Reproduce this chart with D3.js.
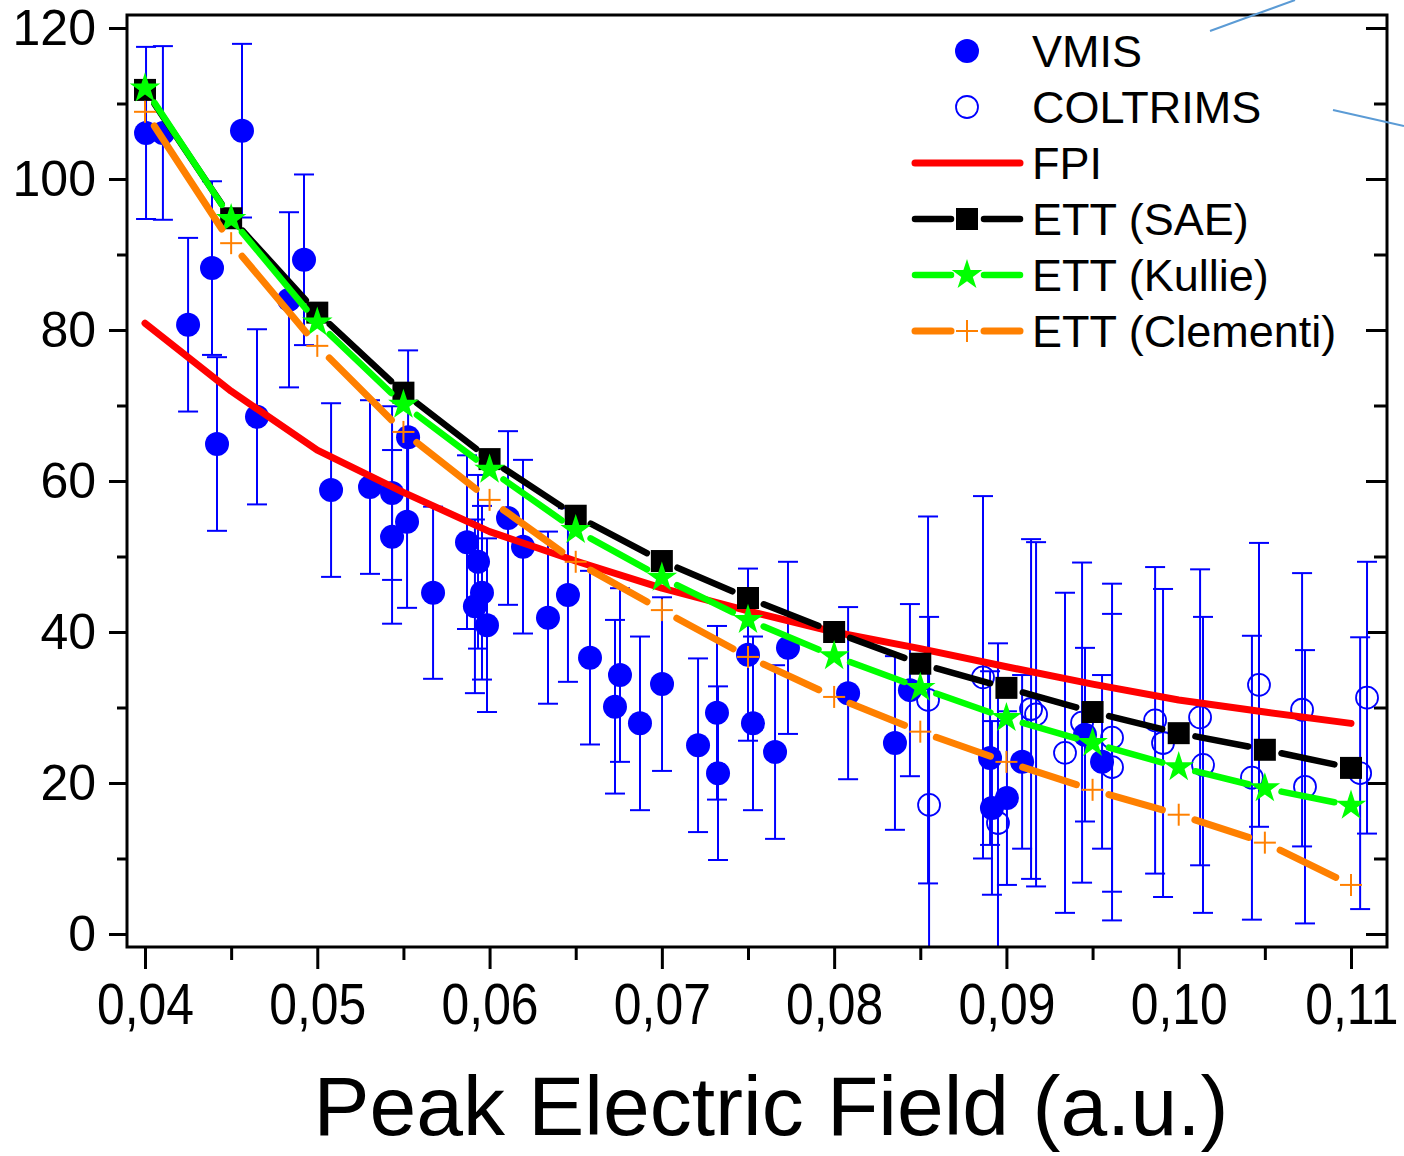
<!DOCTYPE html>
<html>
<head>
<meta charset="utf-8">
<script src="https://cdn.jsdelivr.net/npm/d3@7"></script>
<style>
  html, body { margin: 0; padding: 0; background: #fff; }
  svg { display: block; font-family: "Liberation Sans", Arial, sans-serif; }
</style>
</head>
<body>
<div id="chart"></div>
<script>
// ---- data ----
const xTicks = [0.04, 0.05, 0.06, 0.07, 0.08, 0.09, 0.10, 0.11];
const xTickLabels = ["0,04", "0,05", "0,06", "0,07", "0,08", "0,09", "0,10", "0,11"];
const yTicks = [0, 20, 40, 60, 80, 100, 120];

// VMIS (filled circles)
const vmisX = [0.04006, 0.04104, 0.0425, 0.04389, 0.04418, 0.04563, 0.0465, 0.04836, 0.04923, 0.0508,
  0.05306, 0.05434, 0.05434, 0.05521, 0.05527, 0.05672, 0.05869, 0.05933, 0.05956, 0.05915,
  0.05985, 0.06107, 0.06194, 0.06339, 0.06455, 0.06583, 0.06757, 0.06728, 0.06873, 0.07001,
  0.0721, 0.0732, 0.07326, 0.075, 0.07529, 0.07657, 0.07732, 0.08081, 0.08353, 0.0844,
  0.08905, 0.08916, 0.09003, 0.09091, 0.09456, 0.09555];
const vmisY = [106.1, 106.1, 80.7, 88.2, 64.9, 106.4, 68.5, 84.0, 89.3, 58.8,
  59.2, 58.4, 52.6, 54.6, 65.8, 45.2, 51.9, 49.3, 45.2, 43.4,
  40.9, 55.1, 51.3, 41.9, 44.9, 36.6, 34.3, 30.1, 27.9, 33.1,
  25.0, 29.3, 21.3, 37.0, 27.9, 24.1, 37.9, 31.9, 25.3, 32.3,
  23.3, 16.7, 18.0, 22.8, 26.4, 22.8];
const vmisErr = [11.4, 11.5, 11.5, 11.5, 11.5, 11.5, 11.6, 11.6, 11.3, 11.5,
  11.5, 11.5, 11.5, 11.4, 11.5, 11.4, 11.5, 11.5, 11.5, 11.5,
  11.5, 11.5, 11.5, 11.4, 11.5, 11.5, 11.5, 11.5, 11.5, 11.5,
  11.5, 11.5, 11.5, 11.4, 11.5, 11.5, 11.4, 11.4, 11.5, 11.4,
  11.5, 11.5, 11.5, 11.5, 11.5, 11.5];

// COLTRIMS (open circles)
const coltX = [0.08545, 0.08551, 0.08864, 0.08951, 0.09143, 0.09172, 0.0934, 0.09439, 0.09613, 0.09613,
  0.09863, 0.09909, 0.10124, 0.10141, 0.10425, 0.10466, 0.10716, 0.10733, 0.11053, 0.11093];
const coltY = [31.0, 17.1, 34.0, 14.7, 29.8, 29.1, 24.0, 28.0, 26.0, 22.1,
  28.3, 25.3, 28.7, 22.4, 20.7, 33.0, 29.7, 19.5, 21.3, 31.3];
const coltErr = [24.3, 24.9, 24.0, 23.8, 22.5, 22.8, 21.2, 21.2, 20.4, 20.3,
  20.3, 20.4, 19.6, 19.6, 18.8, 18.8, 18.1, 18.1, 18.0, 18.0];

// theory curves
const modelX = [0.04, 0.045, 0.05, 0.055, 0.06, 0.065, 0.07, 0.075, 0.08, 0.085, 0.09, 0.095, 0.10, 0.105, 0.11];
const fpiY = [80.9, 71.9, 64.1, 58.5, 53.3, 49.4, 45.8, 42.8, 40.0, 37.8, 35.4, 33.1, 31.0, 29.4, 27.9];
const saeY = [111.8, 94.8, 82.3, 71.7, 62.9, 55.4, 49.4, 44.5, 40.0, 35.8, 32.6, 29.4, 26.6, 24.4, 22.0];
const kullieY = [112.0, 94.7, 81.0, 70.1, 61.5, 53.5, 47.2, 41.6, 36.8, 32.6, 28.6, 25.3, 22.1, 19.3, 17.0];
const clementiY = [108.9, 91.5, 77.9, 66.5, 57.5, 49.3, 42.9, 36.7, 31.4, 26.8, 22.8, 19.1, 15.8, 12.1, 6.5];

const legendNames = ["VMIS", "COLTRIMS", "FPI", "ETT (SAE)", "ETT (Kullie)", "ETT (Clementi)"];

// ---- layout ----
const W = 1404, H = 1156;
const frame = { left: 127, right: 1387, top: 15, bottom: 947 };
const BLUE = "#0000ff", RED = "#ff0000", GREEN = "#00ff00", ORANGE = "#ff8000";

const svg = d3.select("#chart").append("svg")
  .attr("width", W).attr("height", H);

const x = d3.scaleLinear().domain([0.04, 0.11]).range([145, 1351]);
const y = d3.scaleLinear().domain([0, 120]).range([934, 28]);

svg.append("defs").append("clipPath").attr("id", "plotClip")
  .append("rect")
  .attr("x", frame.left).attr("y", frame.top)
  .attr("width", frame.right - frame.left).attr("height", frame.bottom - frame.top);

// ---- axes ----
const minorX = d3.range(0.045, 0.111, 0.01);
const minorY = d3.range(10, 120, 20);

// bottom, outward ticks
svg.append("g").attr("transform", `translate(0,${frame.bottom})`)
  .call(d3.axisBottom(x).tickValues(minorX).tickSize(13).tickFormat(""))
  .call(g => g.select(".domain").remove());
const xAxis = svg.append("g").attr("transform", `translate(0,${frame.bottom})`)
  .call(d3.axisBottom(x).tickValues(xTicks).tickSize(22).tickPadding(14)
    .tickFormat((d, i) => xTickLabels[i]));
xAxis.select(".domain").remove();
// labels in the source are slightly condensed
xAxis.selectAll("text")
  .attr("font-size", 58).attr("fill", "#000")
  .attr("font-family", "'Liberation Sans', Arial, sans-serif")
  .attr("transform", "scale(0.86,1)");
// the last label sits against the page edge
xAxis.selectAll(".tick").filter(d => d === 0.11).select("text")
  .attr("text-anchor", "end").attr("x", (1398 - x(0.11)) / 0.86);

// left, outward ticks
svg.append("g").attr("transform", `translate(${frame.left},0)`)
  .call(d3.axisLeft(y).tickValues(minorY).tickSize(10).tickFormat(""))
  .call(g => g.select(".domain").remove());
const yAxis = svg.append("g").attr("transform", `translate(${frame.left},0)`)
  .call(d3.axisLeft(y).tickValues(yTicks).tickSize(18).tickPadding(13).tickFormat(d3.format("d")));
yAxis.select(".domain").remove();
yAxis.selectAll("text")
  .attr("font-size", 50).attr("fill", "#000")
  .attr("font-family", "'Liberation Sans', Arial, sans-serif");

// right, inward ticks
svg.append("g").attr("transform", `translate(${frame.right},0)`)
  .call(d3.axisLeft(y).tickValues(yTicks).tickSize(21).tickFormat(""))
  .call(g => g.select(".domain").remove());
svg.append("g").attr("transform", `translate(${frame.right},0)`)
  .call(d3.axisLeft(y).tickValues(minorY).tickSize(13).tickFormat(""))
  .call(g => g.select(".domain").remove());

svg.selectAll(".tick line").attr("stroke", "#000").attr("stroke-width", 3);

// ---- experimental points ----
const plot = svg.append("g").attr("clip-path", "url(#plotClip)");
const capHalf = 10;

function errorBars(g, xs, ys, es) {
  const idx = d3.range(xs.length);
  const bars = g.append("g").attr("stroke", BLUE).attr("stroke-width", 2);
  bars.selectAll("line.v").data(idx).join("line").attr("class", "v")
    .attr("x1", i => x(xs[i])).attr("x2", i => x(xs[i]))
    .attr("y1", i => y(ys[i] + es[i])).attr("y2", i => y(ys[i] - es[i]));
  bars.selectAll("line.t").data(idx).join("line").attr("class", "t")
    .attr("x1", i => x(xs[i]) - capHalf).attr("x2", i => x(xs[i]) + capHalf)
    .attr("y1", i => y(ys[i] + es[i])).attr("y2", i => y(ys[i] + es[i]));
  bars.selectAll("line.b").data(idx).join("line").attr("class", "b")
    .attr("x1", i => x(xs[i]) - capHalf).attr("x2", i => x(xs[i]) + capHalf)
    .attr("y1", i => y(ys[i] - es[i])).attr("y2", i => y(ys[i] - es[i]));
}

errorBars(plot, vmisX, vmisY, vmisErr);
errorBars(plot, coltX, coltY, coltErr);

plot.append("g").selectAll("circle").data(d3.range(vmisX.length)).join("circle")
  .attr("cx", i => x(vmisX[i])).attr("cy", i => y(vmisY[i])).attr("r", 12)
  .attr("fill", BLUE);

plot.append("g").selectAll("circle").data(d3.range(coltX.length)).join("circle")
  .attr("cx", i => x(coltX[i])).attr("cy", i => y(coltY[i])).attr("r", 11)
  .attr("fill", "none").attr("stroke", BLUE).attr("stroke-width", 1.8);

// ---- theory lines ----
// line broken around each symbol (gap), like the original plot
function gappedLine(g, xs, ys, color, width, gap) {
  const pts = xs.map((v, i) => [x(v), y(ys[i])]);
  const segs = [];
  for (let i = 0; i < pts.length - 1; i++) {
    const [x0, y0] = pts[i], [x1, y1] = pts[i + 1];
    const len = Math.hypot(x1 - x0, y1 - y0);
    if (len <= 2 * gap) continue;
    const ux = (x1 - x0) / len, uy = (y1 - y0) / len;
    segs.push([x0 + ux * gap, y0 + uy * gap, x1 - ux * gap, y1 - uy * gap]);
  }
  g.append("g").selectAll("line").data(segs).join("line")
    .attr("x1", d => d[0]).attr("y1", d => d[1]).attr("x2", d => d[2]).attr("y2", d => d[3])
    .attr("stroke", color).attr("stroke-width", width).attr("stroke-linecap", "round");
}

const lineFPI = d3.line().x((d, i) => x(modelX[i])).y(d => y(d));
plot.append("path").datum(fpiY).attr("d", lineFPI)
  .attr("fill", "none").attr("stroke", RED).attr("stroke-width", 7)
  .attr("stroke-linecap", "round").attr("stroke-linejoin", "round");

const square = d3.symbol().type(d3.symbolSquare).size(484);
const star = d3.symbol().type(d3.symbolStar).size(290);

gappedLine(plot, modelX, saeY, "#000", 6.5, 17);
plot.append("g").selectAll("path").data(saeY).join("path")
  .attr("transform", (d, i) => `translate(${x(modelX[i])},${y(d)})`)
  .attr("d", square).attr("fill", "#000");

gappedLine(plot, modelX, kullieY, GREEN, 6.5, 17);
plot.append("g").selectAll("path").data(kullieY).join("path")
  .attr("transform", (d, i) => `translate(${x(modelX[i])},${y(d)})`)
  .attr("d", star).attr("fill", GREEN);

gappedLine(plot, modelX, clementiY, ORANGE, 7, 17);
const plus = plot.append("g").attr("stroke", ORANGE).attr("stroke-width", 2);
plus.selectAll("line.h").data(clementiY).join("line").attr("class", "h")
  .attr("x1", (d, i) => x(modelX[i]) - 11).attr("x2", (d, i) => x(modelX[i]) + 11)
  .attr("y1", d => y(d)).attr("y2", d => y(d));
plus.selectAll("line.v").data(clementiY).join("line").attr("class", "v")
  .attr("x1", (d, i) => x(modelX[i])).attr("x2", (d, i) => x(modelX[i]))
  .attr("y1", d => y(d) - 11).attr("y2", d => y(d) + 11);

// ---- frame ----
svg.append("rect")
  .attr("x", frame.left).attr("y", frame.top)
  .attr("width", frame.right - frame.left).attr("height", frame.bottom - frame.top)
  .attr("fill", "none").attr("stroke", "#000").attr("stroke-width", 3);

// ---- legend ----
const leg = svg.append("g").attr("transform", "translate(967,0)");
const rowY = [51, 107, 163, 219, 275, 331];

leg.selectAll("text").data(legendNames).join("text")
  .attr("x", 65).attr("y", (d, i) => rowY[i] + 16)
  .attr("font-size", 45).attr("fill", "#000").text(d => d);

leg.append("circle").attr("cx", 0).attr("cy", rowY[0]).attr("r", 12).attr("fill", BLUE);
leg.append("circle").attr("cx", 0).attr("cy", rowY[1]).attr("r", 11)
  .attr("fill", "none").attr("stroke", BLUE).attr("stroke-width", 1.8);
leg.append("line").attr("x1", -52).attr("x2", 53).attr("y1", rowY[2]).attr("y2", rowY[2])
  .attr("stroke", RED).attr("stroke-width", 7).attr("stroke-linecap", "round");

[[rowY[3], "#000", 6.5], [rowY[4], GREEN, 6.5], [rowY[5], ORANGE, 7]].forEach(([yy, c, w]) => {
  leg.append("line").attr("x1", -52).attr("x2", -16).attr("y1", yy).attr("y2", yy)
    .attr("stroke", c).attr("stroke-width", w).attr("stroke-linecap", "round");
  leg.append("line").attr("x1", 17).attr("x2", 53).attr("y1", yy).attr("y2", yy)
    .attr("stroke", c).attr("stroke-width", w).attr("stroke-linecap", "round");
});
leg.append("path").attr("transform", `translate(0,${rowY[3]})`).attr("d", square).attr("fill", "#000");
leg.append("path").attr("transform", `translate(0,${rowY[4]})`).attr("d", star).attr("fill", GREEN);
leg.append("line").attr("x1", -11).attr("x2", 11).attr("y1", rowY[5]).attr("y2", rowY[5])
  .attr("stroke", ORANGE).attr("stroke-width", 2);
leg.append("line").attr("x1", 0).attr("x2", 0).attr("y1", rowY[5] - 11).attr("y2", rowY[5] + 11)
  .attr("stroke", ORANGE).attr("stroke-width", 2);

// ---- axis title ----
svg.append("text")
  .attr("x", 771).attr("y", 1135).attr("text-anchor", "middle")
  .attr("font-size", 84).attr("fill", "#000")
  .text("Peak Electric Field (a.u.)");

// ---- stray annotation strokes from the cropped source figure ----
svg.append("g").attr("stroke", "#5b9bd5").attr("stroke-width", 2)
  .selectAll("line").data([[1210, 31, 1295, 0], [1333, 110, 1404, 126]]).join("line")
  .attr("x1", d => d[0]).attr("y1", d => d[1]).attr("x2", d => d[2]).attr("y2", d => d[3]);
</script>
</body>
</html>
